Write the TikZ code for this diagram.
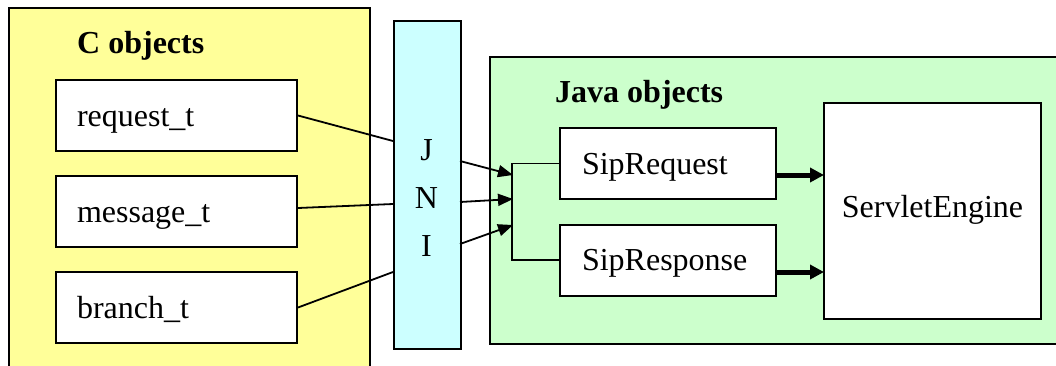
\documentclass[tikz,border=0pt]{standalone}
\usepackage{fontspec}
\setmainfont{Liberation Serif}
\usetikzlibrary{arrows.meta,calc}
\definecolor{cyel}{HTML}{FFFF99}
\definecolor{ccyan}{HTML}{CCFFFF}
\definecolor{cgreen}{HTML}{CCFFCC}
\tikzset{
  group/.style={draw, line width=2pt, anchor=north west, inner sep=0pt},
  cbox/.style={draw, fill=white, line width=2pt, text width=199pt, align=left, inner xsep=21pt, inner ysep=0pt, text height=22.4pt, text depth=0pt, minimum height=71pt, font=\fontsize{32}{38}\selectfont},
  jbox/.style={draw, fill=white, line width=2pt, text width=172pt, align=left, inner xsep=22pt, inner ysep=0pt, text height=21pt, text depth=0pt, minimum height=71pt, font=\fontsize{32}{38}\selectfont},
  title/.style={anchor=base west, inner sep=0pt, font=\fontsize{32}{38}\selectfont\bfseries},
  conn/.style={line width=1.8pt},
  arr/.style={line width=1.8pt, -{Triangle[length=15pt,width=12pt]}},
  thickarr/.style={line width=5pt, -{Triangle[length=14pt,width=14pt]}, shorten >=-1pt}
}
\begin{document}
\begin{tikzpicture}[x=1pt,y=-1pt]
\clip (0,0) rectangle (1056,365);
\fill[white] (0,0) rectangle (1056,365);
% groups
\node[group, fill=cyel, minimum width=361pt, minimum height=370pt] (cgroup) at (8,7) {};
\node[group, fill=ccyan, minimum width=67pt, minimum height=328pt] (jni) at (393,20) {};
\node[group, fill=cgreen, minimum width=580pt, minimum height=287pt] (jgroup) at (489,56) {};
% titles
\node[title] (ctitle) at (77,53) {C objects};
\node[title] (jtitle) at (555,102) {Java objects};
\node[align=center, inner sep=0pt, font=\fontsize{32}{48}\selectfont] (jnitext) at (426.5,198.5) {J\\N\\I};
% C boxes
\node[cbox] (req) at (176.5,115.5) {request\_t};
\node[cbox] (msg) at (176.5,211.5) {message\_t};
\node[cbox] (br) at (176.5,307.5) {branch\_t};
% Java boxes
\node[jbox] (sreq) at (668,163.5) {SipRequest};
\node[jbox] (sresp) at (668,260) {SipResponse};
\node[draw, fill=white, line width=2pt, minimum width=217pt, minimum height=216pt, inner sep=0pt, text height=13.4pt, text depth=0pt, font=\fontsize{32}{38}\selectfont] (se) at (932.5,211) {ServletEngine};
% coordinates
\coordinate (l1) at (393,141);
\coordinate (l2) at (393,204);
\coordinate (l3) at (393,272);
\coordinate (r1) at (460,161);
\coordinate (r2) at (460,202);
\coordinate (r3) at (460,244);
\coordinate (t1) at (513,175);
\coordinate (t2) at (513,199);
\coordinate (t3) at (513,225);
\coordinate (bt) at (512,163.5);
\coordinate (bb) at (512,260);
% C to JNI
\draw[conn] (req.east) -- (l1);
\draw[conn] ($(msg.east)+(0,-3.5)$) -- (l2);
\draw[conn] (br.east) -- (l3);
% JNI to bracket
\draw[arr] (r1) -- (t1);
\draw[arr] (r2) -- (t2);
\draw[arr] (r3) -- (t3);
% bracket
\draw[conn] (sreq.west) -- (bt) -- (bb) -- (sresp.west);
% thick arrows
\coordinate (a1) at ($(sreq.east)+(0,11.5)$);
\coordinate (a2) at ($(sresp.east)+(0,12)$);
\draw[thickarr] (a1) -- (a1 -| se.west);
\draw[thickarr] (a2) -- (a2 -| se.west);
\end{tikzpicture}
\end{document}
